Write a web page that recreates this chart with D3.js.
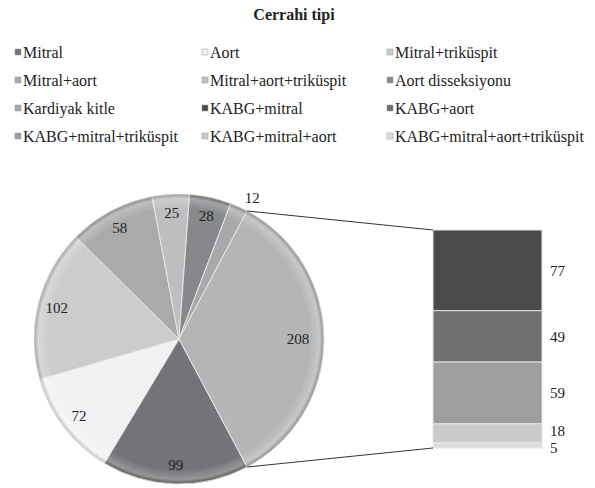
<!DOCTYPE html>
<html>
<head>
<meta charset="utf-8">
<script src="https://cdn.jsdelivr.net/npm/d3@7"></script>
<style>
  body { margin: 0; background: #fff; }
</style>
</head>
<body>
<div id="chart"></div>
<script>
// pie slices, clockwise starting after the "Other" wedge
const pieLabels = ["Mitral", "Aort", "Mitral+triküspit", "Mitral+aort",
  "Mitral+aort+triküspit", "Aort disseksiyonu", "Kardiyak kitle"];
const pieValues = [99, 72, 102, 58, 25, 28, 12];
// stacked bar (second plot), top to bottom
const barLabels = ["KABG+mitral", "KABG+aort", "KABG+mitral+triküspit",
  "KABG+mitral+aort", "KABG+mitral+aort+triküspit"];
const barValues = [77, 49, 59, 18, 5];

const pieColors = ["#737477", "#f1f2f3", "#cbcccd", "#a9aaac", "#bdbec0", "#87888b", "#a8a9ab"];
const otherColor = "#b4b5b7";
const barColors = ["#4a4b4d", "#6e6f71", "#9d9ea0", "#c9cacc", "#dcdddd"];

const FONT = "Liberation Serif";
const width = 595, height = 488;
const svg = d3.select("#chart").append("svg")
    .attr("width", width)
    .attr("height", height);

// title
svg.append("text")
    .attr("x", 294).attr("y", 20)
    .attr("text-anchor", "middle")
    .attr("font-family", FONT)
    .attr("font-weight", "bold")
    .attr("font-size", 16)
    .attr("fill", "#222")
    .text("Cerrahi tipi");

// legend: 3 columns, row-major
const legendItems = pieLabels.map((l, i) => ({ label: l, color: pieColors[i] }))
    .concat(barLabels.map((l, i) => ({ label: l, color: barColors[i] })));
const colX = [15, 202, 387];
const legend = svg.append("g");
legendItems.forEach((d, i) => {
    const g = legend.append("g")
        .attr("transform", `translate(${colX[i % 3]},${58 + Math.floor(i / 3) * 28})`);
    g.append("rect")
        .attr("x", 0).attr("y", -9)
        .attr("width", 6).attr("height", 6)
        .attr("fill", d.color)
        .attr("stroke", "#999").attr("stroke-width", 0.5);
    g.append("text")
        .attr("x", 8).attr("y", 0)
        .attr("font-family", FONT)
        .attr("font-size", 16)
        .attr("fill", "#222")
        .text(d.label);
});

// pie
const cx = 179, cy = 339, r = 145;
const otherTotal = d3.sum(barValues);
const slices = pieValues.map((v, i) => ({ value: v, color: pieColors[i] }))
    .concat([{ value: otherTotal, color: otherColor, other: true }]);
const total = d3.sum(slices, d => d.value);
const otherAngle = otherTotal / total * 2 * Math.PI;
const start = Math.PI / 2 + otherAngle / 2;

const pie = d3.pie().sort(null).value(d => d.value)
    .startAngle(start).endAngle(start + 2 * Math.PI);
const arcs = pie(slices);
const arc = d3.arc().innerRadius(0).outerRadius(r);

const defs = svg.append("defs");
const grad = defs.append("radialGradient").attr("id", "rim")
    .attr("cx", "50%").attr("cy", "50%").attr("r", "50%");
grad.append("stop").attr("offset", "0.9").attr("stop-color", "#fff").attr("stop-opacity", 0);
grad.append("stop").attr("offset", "0.97").attr("stop-color", "#fff").attr("stop-opacity", 0.25);
grad.append("stop").attr("offset", "1").attr("stop-color", "#000").attr("stop-opacity", 0.15);

const pieG = svg.append("g").attr("transform", `translate(${cx},${cy})`);
pieG.selectAll("path.slice")
    .data(arcs)
    .enter().append("path")
    .attr("class", "slice")
    .attr("d", arc)
    .attr("fill", d => d.data.color)
    .attr("stroke", "#e6e6e6")
    .attr("stroke-width", 1);
pieG.append("circle").attr("r", r).attr("fill", "url(#rim)");

const labelArc = d3.arc().innerRadius(r * 0.87).outerRadius(r * 0.87);
pieG.selectAll("text.val")
    .data(arcs)
    .enter().append("text")
    .attr("class", "val")
    .attr("transform", d => {
        let p;
        if (d.data.other) {
            p = d3.arc().innerRadius(r * 0.82).outerRadius(r * 0.82).centroid(d);
        } else if (d.data.value < 20) {
            const a = (d.startAngle + d.endAngle) / 2 + 0.05;
            p = [Math.sin(a) * r * 1.1, -Math.cos(a) * r * 1.1];
        } else {
            p = labelArc.centroid(d);
        }
        return `translate(${p[0]},${p[1]})`;
    })
    .attr("text-anchor", "middle")
    .attr("dy", "0.35em")
    .attr("font-family", FONT)
    .attr("font-size", 15)
    .attr("fill", "#222")
    .text(d => d.value);

// bar of other
const barX = 433, barW = 109, barTop = 230, barBottom = 448;
const y = d3.scaleLinear().domain([0, otherTotal]).range([barTop, barBottom]);
const stack = [];
let acc = 0;
barValues.forEach((v, i) => {
    stack.push({ value: v, y0: acc, y1: acc + v, color: barColors[i] });
    acc += v;
});
const barG = svg.append("g");
barG.selectAll("rect")
    .data(stack)
    .enter().append("rect")
    .attr("x", barX)
    .attr("y", d => y(d.y0))
    .attr("width", barW)
    .attr("height", d => y(d.y1) - y(d.y0))
    .attr("fill", d => d.color)
    .attr("stroke", "#e4e4e4")
    .attr("stroke-width", 1);
// labels at segment middles, pushed apart when segments are thin
const labelY = stack.map(d => (y(d.y0) + y(d.y1)) / 2);
for (let i = labelY.length - 2; i >= 0; i--) {
    if (labelY[i + 1] - labelY[i] < 15) labelY[i] = labelY[i + 1] - 15;
}
labelY[labelY.length - 1] += 2;
barG.selectAll("text")
    .data(stack)
    .enter().append("text")
    .attr("x", barX + barW + 8)
    .attr("y", (d, i) => labelY[i])
    .attr("dy", "0.35em")
    .attr("font-family", FONT)
    .attr("font-size", 15)
    .attr("fill", "#222")
    .text(d => d.value);

// connector lines from other wedge to bar
const otherArc = arcs[arcs.length - 1];
const pt = a => [cx + Math.sin(a) * r, cy - Math.cos(a) * r];
const pTop = pt(otherArc.startAngle), pBot = pt(otherArc.endAngle);
svg.append("line")
    .attr("x1", pTop[0]).attr("y1", pTop[1])
    .attr("x2", barX).attr("y2", barTop)
    .attr("stroke", "#333").attr("stroke-width", 1);
svg.append("line")
    .attr("x1", pBot[0]).attr("y1", pBot[1])
    .attr("x2", barX).attr("y2", barBottom)
    .attr("stroke", "#333").attr("stroke-width", 1);
</script>
</body>
</html>
